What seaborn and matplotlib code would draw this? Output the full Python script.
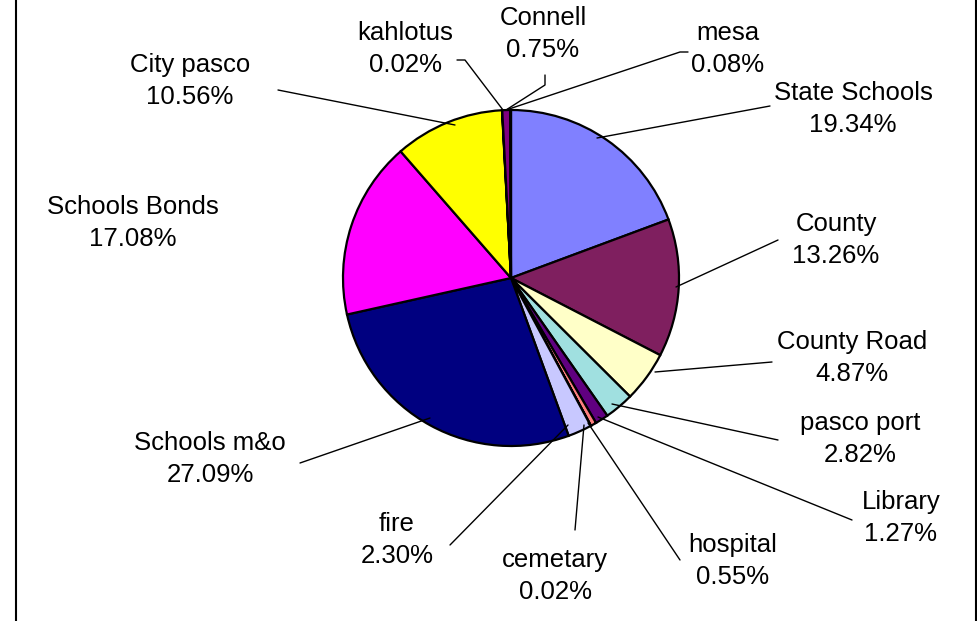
import matplotlib
matplotlib.use("Agg")
import matplotlib.pyplot as plt
import seaborn as sns

# slices, clockwise from 12 o'clock
names = ['State Schools', 'County', 'County Road', 'pasco port', 'Library',
         'hospital', 'cemetary', 'fire', 'Schools m&o', 'Schools Bonds',
         'City pasco', 'kahlotus', 'Connell', 'mesa']
shares = [19.34, 13.26, 4.87, 2.82, 1.27, 0.55, 0.02, 2.30, 27.09, 17.08,
          10.56, 0.02, 0.75, 0.08]
colors = ['#8080FF', '#7F1F5F', '#FFFFC8', '#A0E0E0', '#600080', '#FF8080',
          '#0066CC', '#C8C8FF', '#000080', '#FF00FF', '#FFFF00', '#00FFFF',
          '#800080', '#800000']

# label block centre (pixels, from top-left) and leader line points
label_xy = [(853, 109), (836, 240), (852, 358), (860, 439), (901, 518),
            (733, 561), (555, 576), (397, 540), (210, 459), (133, 223),
            (190, 81), (405, 49), (543, 34), (728, 49)]
leaders = [[(770, 106), (597, 138)],
           [(778, 240), (676, 287)],
           [(772, 362), (655, 372)],
           [(778, 440), (612, 404)],
           [(852, 520), (598, 417)],
           [(680, 560), (588, 423)],
           [(575, 530), (584, 425)],
           [(450, 545), (568, 425)],
           [(300, 463), (430, 418)],
           None,
           [(278, 90), (455, 125)],
           [(457, 60), (465, 60), (503, 110)],
           [(545, 75), (545, 85), (506, 110)],
           [(688, 52), (680, 52), (506, 110)]]

sns.set_theme(style="white")
plt.rcParams['font.family'] = ['Liberation Sans', 'DejaVu Sans']

W, H = 978, 621
fig = plt.figure(figsize=(W / 100, H / 100), dpi=100)
ax = fig.add_axes([0, 0, 1, 1])

ax.pie(shares, colors=colors, startangle=90, counterclock=False,
       center=(511, H - 278), radius=168, frame=True,
       wedgeprops=dict(edgecolor='black', linewidth=1.6))
ax.set_xlim(0, W)
ax.set_ylim(0, H)
ax.set_aspect('equal')
ax.axis('off')

for name, val, (lx, ly), pts in zip(names, shares, label_xy, leaders):
    ax.text(lx, H - ly, f'{name}\n{val:.2f}%', ha='center', va='center',
            fontsize=18.5, linespacing=1.45, color='black')
    if pts:
        ax.plot([p[0] for p in pts], [H - p[1] for p in pts], color='black', lw=1)

# frame edges at the sides
ax.plot([16, 16], [0, H], color='black', lw=1.5)
ax.plot([976, 976], [0, H], color='black', lw=1.5)

fig.savefig('out.png', dpi=100)
